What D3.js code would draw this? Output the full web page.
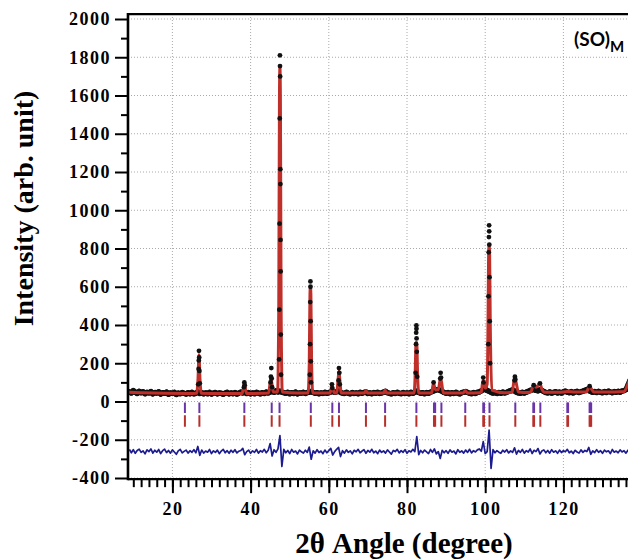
<!DOCTYPE html>
<html>
<head>
<meta charset="utf-8">
<script src="https://cdn.jsdelivr.net/npm/d3@7"></script>
<style>
  html, body { margin: 0; padding: 0; background: #fff; overflow: hidden; }
  svg { display: block; }
</style>
</head>
<body>
<div class="root"></div>
<script>
const width = 628;
const height = 559;

// observed background, read on a 0.5 deg grid from 9 deg
const obsStart = 9;
const obsStep = 0.5;
const obsBg = [
  52,45,57,49,42,53,46,51,41,48,
  45,52,40,47,44,51,39,46,43,49,
  38,45,42,48,37,44,41,47,43,39,
  46,41,48,40,44,50,42,46,40,45,
  41,48,39,44,47,40,45,43,38,44,
  48,40,45,41,47,39,44,49,45,50,
  42,47,40,45,41,48,44,40,46,42,
  49,45,50,53,48,56,50,54,49,46,
  43,48,41,46,42,49,40,45,44,48,
  42,47,48,53,47,43,46,41,45,42,
  48,43,46,50,53,48,51,55,48,44,
  42,48,43,40,47,42,45,41,48,43,
  47,50,42,45,41,47,43,48,42,45,
  49,53,46,43,40,46,42,48,43,41,
  47,42,45,41,48,43,49,54,47,43,
  46,41,47,43,48,53,57,61,62,58,
  53,47,43,47,41,46,42,48,43,40,
  46,49,52,47,43,41,47,42,48,50,
  56,62,66,58,53,48,44,48,42,47,
  43,49,45,48,53,57,61,55,49,45,
  43,48,44,49,53,58,61,63,58,56,
  61,58,52,47,45,50,44,48,51,45,
  49,44,51,54,49,46,52,45,50,53,
  47,51,54,58,63,57,52,48,52,47,
  53,48,46,52,47,54,50,46,52,48,
  53,49,55,57,62,85,110
];

// observed points on the peaks [2theta, intensity]
const obsPeaks = [
  [26.6,90],[26.7,170],[26.75,215],[26.8,265],[26.85,230],[26.9,160],[27.0,95],
  [38.3,75],[38.4,100],[38.5,85],
  [45.1,100],[45.2,130],[45.3,175],[45.4,120],[45.5,75],
  [47.3,220],[47.35,480],[47.4,930],[47.45,1480],[47.5,1810],[47.52,1754],[47.55,1700],
  [47.6,1215],[47.62,1137],[47.65,845],[47.68,680],[47.72,350],[47.78,140],
  [55.15,140],[55.2,300],[55.25,520],[55.3,628],[55.32,600],[55.35,420],[55.4,210],[55.45,100],
  [60.8,90],[60.9,70],
  [62.5,110],[62.6,175],[62.7,150],[62.8,90],
  [82.2,150],[82.3,300],[82.35,360],[82.4,398],[82.42,380],[82.45,330],[82.5,260],[82.6,130],
  [86.8,100],
  [88.5,120],[88.6,150],[88.7,125],
  [99.5,125],[99.6,100],
  [100.8,300],[100.85,550],[100.9,780],[100.95,860],[101.0,921],[101.02,890],[101.05,820],
  [101.1,650],[101.15,420],[101.25,200],
  [107.5,110],[107.6,130],[107.7,115],
  [112.4,85],[114.0,95],
  [126.7,80]
];

// calculated profile [2theta, intensity]
const calc = [
  [8.7,48],[12,46],[18,43],[24,42],
  [26.2,43],[26.55,120],[26.8,245],[27.05,120],[27.4,43],
  [32,42],
  [37.8,42],[38.2,75],[38.4,95],[38.6,75],[39.0,42],
  [43,43],
  [44.6,44],[45.0,100],[45.2,125],[45.4,100],[45.8,50],
  [46.9,50],[47.2,500],[47.38,1600],[47.5,1750],[47.62,1600],[47.8,500],[48.1,50],
  [52,44],
  [54.7,44],[55.0,200],[55.18,560],[55.3,600],[55.42,560],[55.6,200],[55.9,44],
  [59.5,44],
  [60.3,44],[60.6,70],[60.8,80],[61.0,70],[61.4,45],
  [62.0,45],[62.4,120],[62.6,160],[62.8,120],[63.2,44],
  [68,44],[69.1,44],[69.5,58],[69.9,44],
  [74.0,44],[74.4,60],[74.8,44],
  [80.5,44],
  [81.8,44],[82.1,150],[82.28,300],[82.4,310],[82.52,300],[82.7,150],[83.0,44],
  [85.5,45],
  [86.3,45],[86.6,80],[86.8,95],[87.0,80],[87.4,60],
  [88.0,62],[88.4,105],[88.6,120],[88.8,105],[89.3,45],
  [94.4,45],[94.9,58],[95.4,45],
  [98.6,46],
  [99.0,50],[99.3,95],[99.5,110],[99.7,90],[100.1,70],
  [100.5,90],[100.8,600],[100.88,790],[101.0,820],[101.12,790],[101.3,400],[101.7,60],
  [105,46],
  [106.9,48],[107.3,100],[107.6,125],[107.9,100],[108.5,50],
  [111,47],
  [111.7,50],[112.2,80],[112.5,85],[113.0,75],[113.7,90],[114.0,95],[114.4,70],[115.2,48],
  [119,48],[121,52],[123,50],
  [125.9,50],[126.4,70],[126.7,78],[127.1,68],[127.8,50],
  [133,50],[135.5,52],[136.3,80],[137,120]
];

// difference curve (obs - calc, offset), 0.5 deg grid from 9 deg
const diffStart = 9;
const diffStep = 0.5;
const diff = [
  -250,-268,-252,-271,-256,-249,-266,-258,-274,-253,
  -262,-248,-270,-255,-265,-251,-272,-257,-249,-267,
  -256,-270,-253,-264,-276,-258,-250,-269,-261,-254,
  -270,-257,-266,-252,-268,-235,-282,-254,-270,-259,
  -265,-251,-272,-258,-266,-254,-273,-259,-250,-268,
  -257,-271,-255,-266,-252,-269,-260,-256,-245,-278,
  -262,-254,-271,-258,-266,-251,-270,-257,-264,-250,
  -268,-255,-220,-285,-252,-266,-248,-178,-340,-250,
  -268,-256,-272,-251,-265,-259,-274,-254,-263,-270,
  -255,-266,-238,-302,-258,-270,-252,-267,-259,-273,
  -254,-268,-257,-245,-280,-262,-250,-240,-288,-257,
  -270,-253,-266,-258,-274,-255,-263,-250,-268,-259,
  -252,-271,-256,-265,-250,-268,-259,-273,-254,-266,
  -258,-270,-253,-264,-275,-256,-262,-250,-269,-257,
  -266,-252,-271,-258,-264,-250,-262,-183,-278,-256,
  -268,-254,-263,-272,-251,-266,-248,-274,-262,-298,
  -255,-268,-257,-271,-253,-265,-259,-274,-252,-266,
  -258,-270,-254,-266,-250,-269,-257,-264,-253,-248,
  -260,-210,-272,-262,-150,-350,-252,-268,-257,-265,
  -271,-255,-264,-252,-269,-258,-266,-242,-275,-256,
  -266,-251,-270,-257,-264,-248,-272,-255,-262,-246,
  -274,-259,-253,-268,-256,-270,-252,-265,-258,-271,
  -254,-267,-257,-263,-250,-268,-259,-272,-255,-264,
  -270,-253,-266,-256,-262,-240,-276,-258,-267,-252,
  -266,-257,-271,-254,-263,-258,-272,-251,-265,-259,
  -268,-253,-264,-257,-270,-255,-262
];

// Bragg reflection positions (2theta)
const braggPos = [
  23.2, 26.9, 38.4, 45.4, 47.4, 55.4, 60.9, 62.6, 69.5, 74.4,
  82.4, 86.9, 87.2, 88.8, 94.9, 99.5, 99.7, 101.1, 107.7,
  112.3, 112.5, 114.1, 121.0, 121.2, 126.7, 126.9, 127.1
];

const yMajor = [-400, -200, 0, 200, 400, 600, 800, 1000, 1200, 1400, 1600, 1800, 2000];
const yMinor = [-300, -100, 100, 300, 500, 700, 900, 1100, 1300, 1500, 1700, 1900];
const xMajor = [20, 40, 60, 80, 100, 120];
const xMinor = d3.range(10, 138, 2);

const x = d3.scaleLinear().domain([20, 120]).range([172.4, 563.4]);
const y = d3.scaleLinear().domain([-400, 2000]).range([478, 19]);
const xLeft = 8.64;
const plotLeft = x(xLeft);
const plotTop = y(2026);
const plotBottom = y(-406);

const svg = d3
  .select(".root")
  .append("svg")
  .attr("width", width)
  .attr("height", height);

svg.append("defs")
  .append("clipPath")
  .attr("id", "plot")
  .append("rect")
  .attr("x", plotLeft)
  .attr("y", plotTop)
  .attr("width", width - plotLeft)
  .attr("height", plotBottom - plotTop);

// grid
const grid = svg.append("g").attr("stroke", "#a8a8a8").attr("stroke-width", 1).attr("stroke-dasharray", "1,2");
grid.selectAll(".gx").data(xMajor).join("line")
  .attr("x1", d => x(d)).attr("x2", d => x(d))
  .attr("y1", plotTop).attr("y2", plotBottom);
grid.selectAll(".gy").data(yMajor).join("line")
  .attr("x1", plotLeft).attr("x2", width)
  .attr("y1", d => y(d)).attr("y2", d => y(d));

const plot = svg.append("g").attr("clip-path", "url(#plot)");

// Bragg ticks
plot.append("g").selectAll("line").data(braggPos).join("line")
  .attr("x1", d => x(d)).attr("x2", d => x(d))
  .attr("y1", y(-5)).attr("y2", y(-60))
  .attr("stroke", "#6a35a8").attr("stroke-width", 2);
plot.append("g").selectAll("line").data(braggPos).join("line")
  .attr("x1", d => x(d)).attr("x2", d => x(d))
  .attr("y1", y(-72)).attr("y2", y(-132))
  .attr("stroke", "#b8302c").attr("stroke-width", 2);

// difference
const diffLine = d3.line()
  .x((d, i) => x(diffStart + i * diffStep))
  .y(d => y(d));
plot.append("path")
  .datum(diff)
  .attr("d", diffLine)
  .attr("fill", "none")
  .attr("stroke", "#1c1c90")
  .attr("stroke-width", 1.7)
  .attr("stroke-linejoin", "round");

// observed background band
const obsLine = d3.line()
  .x((d, i) => x(obsStart + i * obsStep))
  .y(d => y(d));
plot.append("path")
  .datum(obsBg)
  .attr("d", obsLine)
  .attr("fill", "none")
  .attr("stroke", "#111")
  .attr("stroke-width", 5.5)
  .attr("stroke-linejoin", "round");
plot.append("g").selectAll("circle").data(obsBg).join("circle")
  .attr("cx", (d, i) => x(obsStart + i * obsStep))
  .attr("cy", d => y(d))
  .attr("r", 2.6)
  .attr("fill", "#111");

// calculated
const calcLine = d3.line()
  .x(d => x(d[0]))
  .y(d => y(d[1]))
  .curve(d3.curveMonotoneX);
plot.append("path")
  .datum(calc)
  .attr("d", calcLine)
  .attr("fill", "none")
  .attr("stroke", "#c0302a")
  .attr("stroke-width", 3)
  .attr("stroke-linejoin", "round");

// observed peak points
plot.append("g").selectAll("circle").data(obsPeaks).join("circle")
  .attr("cx", d => x(d[0]))
  .attr("cy", d => y(d[1]))
  .attr("r", 2.4)
  .attr("fill", "#111");

// axes
const tickFont = "'Liberation Serif', 'Times New Roman', serif";

svg.append("g")
  .attr("transform", `translate(${plotLeft},0)`)
  .call(d3.axisLeft(y).tickValues(yMajor).tickSize(13).tickPadding(4).tickFormat(d => String(d)));
svg.append("g")
  .attr("transform", `translate(${plotLeft},0)`)
  .call(d3.axisLeft(y).tickValues(yMinor).tickSize(7).tickFormat(""));

svg.append("g")
  .attr("transform", `translate(0,${plotBottom})`)
  .call(d3.axisBottom(x).tickValues(xMajor).tickSize(14).tickPadding(9).tickFormat(d => String(d)));
svg.append("g")
  .attr("transform", `translate(0,${plotBottom})`)
  .call(d3.axisBottom(x).tickValues(xMinor).tickSize(8).tickFormat(""));

svg.selectAll(".domain").remove();
svg.selectAll(".tick line").attr("stroke", "#000").attr("stroke-width", 2);
svg.selectAll(".tick text")
  .attr("fill", "#000")
  .style("font-family", tickFont)
  .style("font-weight", "bold")
  .style("font-size", "18px")
  .style("letter-spacing", "1.5px");

// frame
const frame = svg.append("g").attr("stroke", "#000");
frame.append("line").attr("x1", plotLeft).attr("x2", plotLeft).attr("y1", plotTop - 1).attr("y2", plotBottom + 1).attr("stroke-width", 2.6);
frame.append("line").attr("x1", plotLeft).attr("x2", width).attr("y1", plotTop).attr("y2", plotTop).attr("stroke-width", 2.2);
frame.append("line").attr("x1", plotLeft).attr("x2", width).attr("y1", plotBottom).attr("y2", plotBottom).attr("stroke-width", 2.4);

// axis titles
svg.append("text")
  .attr("transform", `translate(33,${(y(2000) + y(-400)) / 2 - 40}) rotate(-90)`)
  .attr("text-anchor", "middle")
  .style("font-family", tickFont)
  .style("font-weight", "bold")
  .style("font-size", "28px")
  .text("Intensity (arb. unit)");

svg.append("text")
  .attr("x", 404)
  .attr("y", 553)
  .attr("text-anchor", "middle")
  .style("font-family", tickFont)
  .style("font-weight", "bold")
  .style("font-size", "29px")
  .text("2θ Angle (degree)");

// sample label
const label = svg.append("text")
  .attr("x", 574)
  .attr("y", 46)
  .style("font-family", "Lato, 'Open Sans', sans-serif")
  .style("font-weight", "bold")
  .style("font-size", "19px");
label.append("tspan").text("(SO)");
label.append("tspan").attr("dy", 6).style("font-size", "15px").text("M");
</script>
</body>
</html>
